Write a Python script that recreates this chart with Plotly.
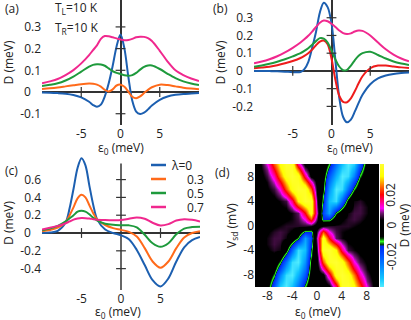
import plotly.graph_objects as go

# ---------------- data ----------------
lam_labels = ["0", "0.3", "0.5", "0.7"]

eps_ab = [-10, -9, -8, -7, -6, -5, -4, -3.5, -3, -2.5, -2, -1.5, -1, -0.5, 0,
          0.5, 1, 1.5, 2, 2.5, 3, 3.5, 4, 5, 6, 7, 8, 9, 10]

# panel (a)  T_L = T_R = 10 K
a_lam0 = [-0.002, -0.003, -0.005, -0.008, -0.014, -0.025, -0.045, -0.06, -0.068, -0.058, -0.02, 0.04, 0.12, 0.21, 0.265,
          0.2, 0.07, -0.04, -0.09, -0.101, -0.095, -0.08, -0.062, -0.036, -0.021, -0.013, -0.009, -0.007, -0.005]
a_lam3 = [0.014, 0.017, 0.021, 0.026, 0.031, 0.036, 0.039, 0.038, 0.034, 0.025, 0.01, 0.002, 0.012, 0.03, 0.034,
          0.024, 0.002, -0.022, -0.029, -0.02, -0.005, 0.01, 0.022, 0.034, 0.032, 0.026, 0.02, 0.016, 0.013]
a_lam5 = [0.028, 0.033, 0.04, 0.053, 0.071, 0.094, 0.117, 0.125, 0.128, 0.127, 0.121, 0.109, 0.096, 0.088, 0.083,
          0.077, 0.075, 0.078, 0.088, 0.103, 0.116, 0.122, 0.122, 0.106, 0.084, 0.064, 0.049, 0.039, 0.032]
a_lam7 = [0.04, 0.049, 0.06, 0.078, 0.101, 0.132, 0.17, 0.193, 0.215, 0.245, 0.258, 0.257, 0.252, 0.247, 0.242,
          0.239, 0.24, 0.245, 0.252, 0.255, 0.254, 0.248, 0.235, 0.19, 0.14, 0.1, 0.078, 0.062, 0.051]

# panel (b)
b_lam0 = [0.0, 0.0, -0.001, -0.002, -0.004, -0.007, -0.006, 0.01, 0.05, 0.13, 0.22, 0.33, 0.385, 0.36, 0.27,
          0.06, -0.15, -0.26, -0.29, -0.275, -0.23, -0.18, -0.135, -0.075, -0.042, -0.026, -0.017, -0.012, -0.009]
b_lam3 = [0.015, 0.019, 0.024, 0.032, 0.043, 0.056, 0.073, 0.085, 0.1, 0.12, 0.145, 0.165, 0.171, 0.15, 0.07,
          -0.05, -0.14, -0.175, -0.177, -0.155, -0.115, -0.07, -0.03, 0.015, 0.03, 0.03, 0.025, 0.02, 0.016]
b_lam5 = [0.024, 0.031, 0.04, 0.052, 0.066, 0.082, 0.1, 0.113, 0.128, 0.148, 0.168, 0.185, 0.182, 0.16, 0.115,
          0.065, 0.025, 0.004, 0.006, 0.03, 0.06, 0.085, 0.1, 0.108, 0.09, 0.07, 0.053, 0.042, 0.034]
b_lam7 = [0.043, 0.053, 0.066, 0.083, 0.104, 0.13, 0.16, 0.178, 0.198, 0.222, 0.248, 0.272, 0.284, 0.28, 0.266,
          0.248, 0.228, 0.213, 0.208, 0.212, 0.222, 0.228, 0.226, 0.2, 0.16, 0.122, 0.092, 0.07, 0.054]

# panel (c)
eps_c = [-10, -9, -8, -7, -6.5, -6, -5.5, -5, -4.5, -4, -3.5, -3, -2, -1, 0, 1, 2, 3, 4, 5, 6, 7, 8, 9, 10]
c_lam0 = [0.0, 0.005, 0.025, 0.12, 0.28, 0.5, 0.73, 0.84, 0.76, 0.53, 0.31, 0.15, 0.04, 0.0, -0.025,
          -0.07, -0.19, -0.36, -0.53, -0.6, -0.51, -0.32, -0.16, -0.08, -0.045]
c_lam3 = [0.02, 0.035, 0.06, 0.12, 0.2, 0.29, 0.39, 0.43, 0.4, 0.31, 0.22, 0.15, 0.09, 0.055, 0.035,
          0.012, -0.04, -0.17, -0.32, -0.39, -0.32, -0.17, -0.05, 0.0, 0.02]
c_lam5 = [0.03, 0.05, 0.08, 0.13, 0.165, 0.2, 0.24, 0.25, 0.24, 0.21, 0.17, 0.14, 0.105, 0.092, 0.088,
          0.086, 0.064, -0.02, -0.115, -0.155, -0.115, -0.015, 0.05, 0.067, 0.071]
c_lam7 = [0.04, 0.06, 0.08, 0.11, 0.13, 0.15, 0.162, 0.168, 0.167, 0.163, 0.155, 0.15, 0.145, 0.143, 0.145,
          0.16, 0.175, 0.16, 0.115, 0.085, 0.1, 0.14, 0.155, 0.148, 0.13]

# panel (d): D map in micro-eV, rows V_sd = -10 ... 10, columns eps0 = -10 ... 10
eps_d = list(range(-10, 11))
vsd_d = list(range(-10, 11))
D_map_ueV = [
    [0, 0, -4, -20, -36, -40, -34, -24, -10, 0, 0, 0, 2, 15, 38, 40, 33, 24, 11, 4, 0],
    [0, 0, -2, -15, -31, -39, -37, -28, -15, -2, 0, 1, 8, 26, 39, 38, 30, 19, 8, 3, 0],
    [0, 0, 0, -10, -26, -38, -40, -32, -20, -4, 0, 2, 16, 36, 40, 36, 26, 14, 6, 2, 0],
    [0, 0, 0, -5, -18, -31, -39, -36, -24, -6, 1, 13, 27, 38, 38, 30, 19, 10, 4, 1, 0],
    [0, 0, 0, -1, -10, -24, -38, -40, -28, -7, 2, 24, 38, 40, 35, 24, 12, 6, 3, 0, 0],
    [0, 0, 1, 2, -3, -15, -30, -39, -31, -10, 4, 31, 39, 36, 26, 15, 8, 4, 2, 0, 0],
    [0, 0, 3, 5, 4, -6, -22, -38, -34, -12, 6, 38, 40, 32, 16, 6, 4, 2, 0, 0, 0],
    [0, 0, 4, 6, 5, -1, -12, -24, -32, -15, 8, 37, 30, 20, 10, 4, 3, 1, 0, 0, 0],
    [0, 1, 4, 6, 6, 4, -2, -10, -30, -18, 10, 36, 20, 7, 4, 2, 1, 0, 0, 0, 0],
    [0, 1, 3, 5, 6, 5, 3, -2, -14, -14, 6, 24, 12, 6, 4, 3, 2, 1, 0, 0, 0],
    [0, 0, 1, 3, 4, 5, 5, 5, 5, 4, 0, 4, 5, 5, 5, 5, 4, 3, 1, 0, 0],
    [0, 0, 0, 1, 2, 3, 4, 6, 12, 24, 6, -14, -14, -2, 3, 5, 6, 5, 3, 1, 0],
    [0, 0, 0, 0, 1, 2, 4, 7, 20, 36, 10, -18, -30, -10, -2, 4, 6, 6, 4, 1, 0],
    [0, 0, 0, 1, 3, 4, 10, 20, 30, 37, 8, -15, -32, -24, -12, -1, 5, 6, 4, 0, 0],
    [0, 0, 0, 2, 4, 6, 16, 32, 40, 38, 6, -12, -34, -38, -22, -6, 4, 5, 3, 0, 0],
    [0, 0, 2, 4, 8, 15, 26, 36, 39, 31, 4, -10, -31, -39, -30, -15, -3, 2, 1, 0, 0],
    [0, 0, 3, 6, 12, 24, 35, 40, 38, 24, 2, -7, -28, -40, -38, -24, -10, -1, 0, 0, 0],
    [0, 1, 4, 10, 19, 30, 38, 38, 27, 13, 1, -6, -24, -36, -39, -31, -18, -5, 0, 0, 0],
    [0, 2, 6, 14, 26, 36, 40, 36, 16, 2, 0, -4, -20, -32, -40, -38, -26, -10, 0, 0, 0],
    [0, 3, 8, 19, 30, 38, 39, 26, 8, 1, 0, -2, -15, -28, -37, -39, -31, -15, -2, 0, 0],
    [0, 4, 11, 24, 33, 40, 38, 15, 2, 0, 0, 0, -10, -24, -34, -40, -36, -20, -4, 0, 0],
]

x_ticks_abc = [-5, 0, 5]
y_ticks_a = [-0.1, 0, 0.1, 0.2, 0.3]
y_ticks_b = [-0.2, -0.1, 0, 0.1, 0.2, 0.3]
y_ticks_c = [-0.4, -0.2, 0, 0.2, 0.4, 0.6]
d_ticks = [-8, -4, 0, 4, 8]
cb_ticks_ueV = [-20, 0, 20]
cb_ticktext = ["-0.02", "0", "0.02"]
Z_MIN, Z_MAX = -40, 40

# ---------------- styling ----------------
W, H = 411, 320
FONT = "Open Sans"
FS = 12
TXT = "#222222"
AX = "#333333"
col_ac = ["#1c5fb0", "#ff6a1a", "#1e9a3c", "#f0288e"]
col_b = ["#1c5fb0", "#ee1c1c", "#1e9a3c", "#f0288e"]
EPS_TITLE = "ε<sub>0</sub> (meV)"


def px_x(p):
    return p / W


def px_y(p):
    return 1 - p / H


def fmt(v):
    s = ("%g" % v)
    if s == "0":
        return "0<span style='color:rgba(0,0,0,0)'>.0</span>"
    return s


fig = go.Figure()

panels = [
    ("x", "y", eps_ab, [a_lam0, a_lam3, a_lam5, a_lam7], col_ac),
    ("x2", "y2", eps_ab, [b_lam0, b_lam3, b_lam5, b_lam7], col_b),
    ("x3", "y3", eps_c, [c_lam0, c_lam3, c_lam5, c_lam7], col_ac),
]
yticks_all = [y_ticks_a, y_ticks_b, y_ticks_c]

for (xa, ya, xs, series, cols), yt in zip(panels, yticks_all):
    for vals, c, lab in zip(series, cols, lam_labels):
        fig.add_trace(go.Scatter(x=xs, y=vals, xaxis=xa, yaxis=ya, mode="lines",
                                 line=dict(color=c, width=2, shape="spline", smoothing=0.9),
                                 name="λ=" + lab, showlegend=False, hoverinfo="skip"))
    ytk = [v for v in yt if v != 0]
    fig.add_trace(go.Scatter(x=[0] * len(ytk), y=ytk, xaxis=xa, yaxis=ya, mode="markers",
                             marker=dict(symbol="line-ew", size=7, line=dict(color=AX, width=1.2)),
                             showlegend=False, hoverinfo="skip"))
    xtk = [v for v in x_ticks_abc if v != 0]
    fig.add_trace(go.Scatter(x=xtk, y=[0] * len(xtk), xaxis=xa, yaxis=ya, mode="markers",
                             marker=dict(symbol="line-ns", size=7, line=dict(color=AX, width=1.2)),
                             showlegend=False, hoverinfo="skip"))

colorscale = [
    [0.0, "#50ecff"], [0.07, "#10c4ff"], [0.18, "#0080ff"], [0.27, "#0048ff"], [0.33, "#0028f0"],
    [0.345, "#004010"], [0.37, "#30ff20"], [0.395, "#004000"], [0.41, "#000000"],
    [0.545, "#000000"], [0.575, "#3e0c3e"], [0.60, "#701a70"], [0.64, "#ff00ff"],
    [0.75, "#ff0000"], [0.83, "#ff8000"], [0.90, "#ffff00"], [1.0, "#ffff30"],
]

tf = dict(family=FONT, size=FS, color=TXT)

CB_LEN_PX, CB_MID_PX = 123, 225.5
fig.add_trace(go.Heatmap(
    x=eps_d, y=vsd_d, z=D_map_ueV, xaxis="x4", yaxis="y4",
    zmin=Z_MIN, zmax=Z_MAX, zsmooth="best", colorscale=colorscale, hoverinfo="skip",
    colorbar=dict(thickness=4, lenmode="fraction", len=CB_LEN_PX / H, y=px_y(CB_MID_PX), yanchor="middle",
                  x=px_x(380), xanchor="left", xpad=0, ypad=0, outlinewidth=0,
                  tickvals=cb_ticks_ueV, showticklabels=False, ticks=""),
))


def lin_axes(xdom, ydom, yr, yt, show_zero_x=True):
    xa = dict(domain=xdom, range=[-10, 10], tickvals=x_ticks_abc, ticktext=[("%g" % v) for v in x_ticks_abc],
              showgrid=False, zeroline=show_zero_x, zerolinecolor=AX, zerolinewidth=1.5, showline=False,
              automargin=False, ticks="", tickfont=tf)
    ya = dict(domain=ydom, range=yr, tickvals=yt, ticktext=[fmt(v) for v in yt],
              showgrid=False, zeroline=True, zerolinecolor=AX, zerolinewidth=1.5, showline=False,
              automargin=False, ticks="", tickfont=tf, title=dict(text="D (meV)", font=tf, standoff=4))
    return xa, ya


xa1, ya1 = lin_axes([px_x(42), px_x(199)], [px_y(125), px_y(0)], [-0.152, 0.424], y_ticks_a)
xa2, ya2 = lin_axes([px_x(254), px_x(409)], [px_y(125), px_y(0)], [-0.305, 0.40], y_ticks_b)
xa3, ya3 = lin_axes([px_x(42), px_x(200)], [px_y(290), px_y(156)], [-0.64, 0.865], y_ticks_c, show_zero_x=False)

xa2.update(anchor="y2")
ya2.update(anchor="x2")
xa3.update(anchor="y3")
ya3.update(anchor="x3")

fig.update_layout(
    template="none",
    width=W, height=H, margin=dict(l=0, r=0, t=0, b=0, autoexpand=False),
    paper_bgcolor="white", plot_bgcolor="white", showlegend=False,
    font=dict(family=FONT, size=FS, color=TXT),
    xaxis=xa1, yaxis=ya1, xaxis2=xa2, yaxis2=ya2, xaxis3=xa3, yaxis3=ya3,
    xaxis4=dict(domain=[px_x(255), px_x(379)], range=[-10, 10], anchor="y4",
                tickvals=d_ticks, ticktext=[("%g" % v) for v in d_ticks], ticks="",
                showgrid=False, zeroline=False, showline=False, automargin=False, tickfont=tf),
    yaxis4=dict(domain=[px_y(287), px_y(164)], range=[-10, 10], anchor="x4",
                tickvals=d_ticks, ticktext=[("%g" % v) for v in d_ticks], ticks="",
                showgrid=False, zeroline=False, showline=False, automargin=False, tickfont=tf,
                title=dict(text="V<sub>sd</sub> (mV)", font=tf, standoff=4)),
)

fig.add_shape(type="line", xref="x3", yref="y3", x0=0, x1=0, y0=-0.64, y1=0.78,
              line=dict(color=AX, width=1.5), layer="below")

# x-axis titles
for xp, yp in [(121, 148), (350, 148), (118, 312), (318, 312)]:
    fig.add_annotation(text=EPS_TITLE, xref="paper", yref="paper", x=px_x(xp), y=px_y(yp),
                       xanchor="center", yanchor="middle", showarrow=False, font=tf, borderpad=0)

# colorbar tick labels (rotated) and title
for v, t in zip(cb_ticks_ueV, cb_ticktext):
    yy = px_y(CB_MID_PX) + (v - (Z_MIN + Z_MAX) / 2) / (Z_MAX - Z_MIN) * CB_LEN_PX / H
    fig.add_annotation(text=t, xref="paper", yref="paper", x=px_x(391), y=yy,
                       xanchor="center", yanchor="middle", textangle=-90, showarrow=False, font=tf)
fig.add_annotation(text="D (meV)", xref="paper", yref="paper", x=px_x(404), y=px_y(CB_MID_PX),
                   xanchor="center", yanchor="middle", textangle=-90, showarrow=False, font=tf)

for lab, xp, yp in [("(a)", 3, 8), ("(b)", 211, 8), ("(c)", 3, 170), ("(d)", 213, 172)]:
    fig.add_annotation(text=lab, xref="paper", yref="paper", x=px_x(xp), y=px_y(yp),
                       xanchor="left", yanchor="middle", showarrow=False, font=tf)
fig.add_annotation(text="T<sub>L</sub>=10 K", xref="paper", yref="paper", x=px_x(53), y=px_y(8),
                   xanchor="left", yanchor="middle", showarrow=False, font=tf)
fig.add_annotation(text="T<sub>R</sub>=10 K", xref="paper", yref="paper", x=px_x(53), y=px_y(28),
                   xanchor="left", yanchor="middle", showarrow=False, font=tf)

for i, (lab, c) in enumerate(zip(lam_labels, col_ac)):
    yy = 165 + 14 * i
    fig.add_shape(type="line", xref="paper", yref="paper", x0=px_x(151), x1=px_x(166),
                  y0=px_y(yy), y1=px_y(yy), line=dict(color=c, width=2.5))
    if i == 0:
        fig.add_annotation(text="λ=" + lab, xref="paper", yref="paper", x=px_x(169), y=px_y(yy),
                           xanchor="left", yanchor="middle", showarrow=False, font=tf)
    else:
        fig.add_annotation(text=lab, xref="paper", yref="paper", x=px_x(185), y=px_y(yy),
                           xanchor="left", yanchor="middle", showarrow=False, font=tf)

fig.write_html("out.html", config={"displayModeBar": False},
               post_script="document.body.style.margin='0';document.body.style.padding='0';")
